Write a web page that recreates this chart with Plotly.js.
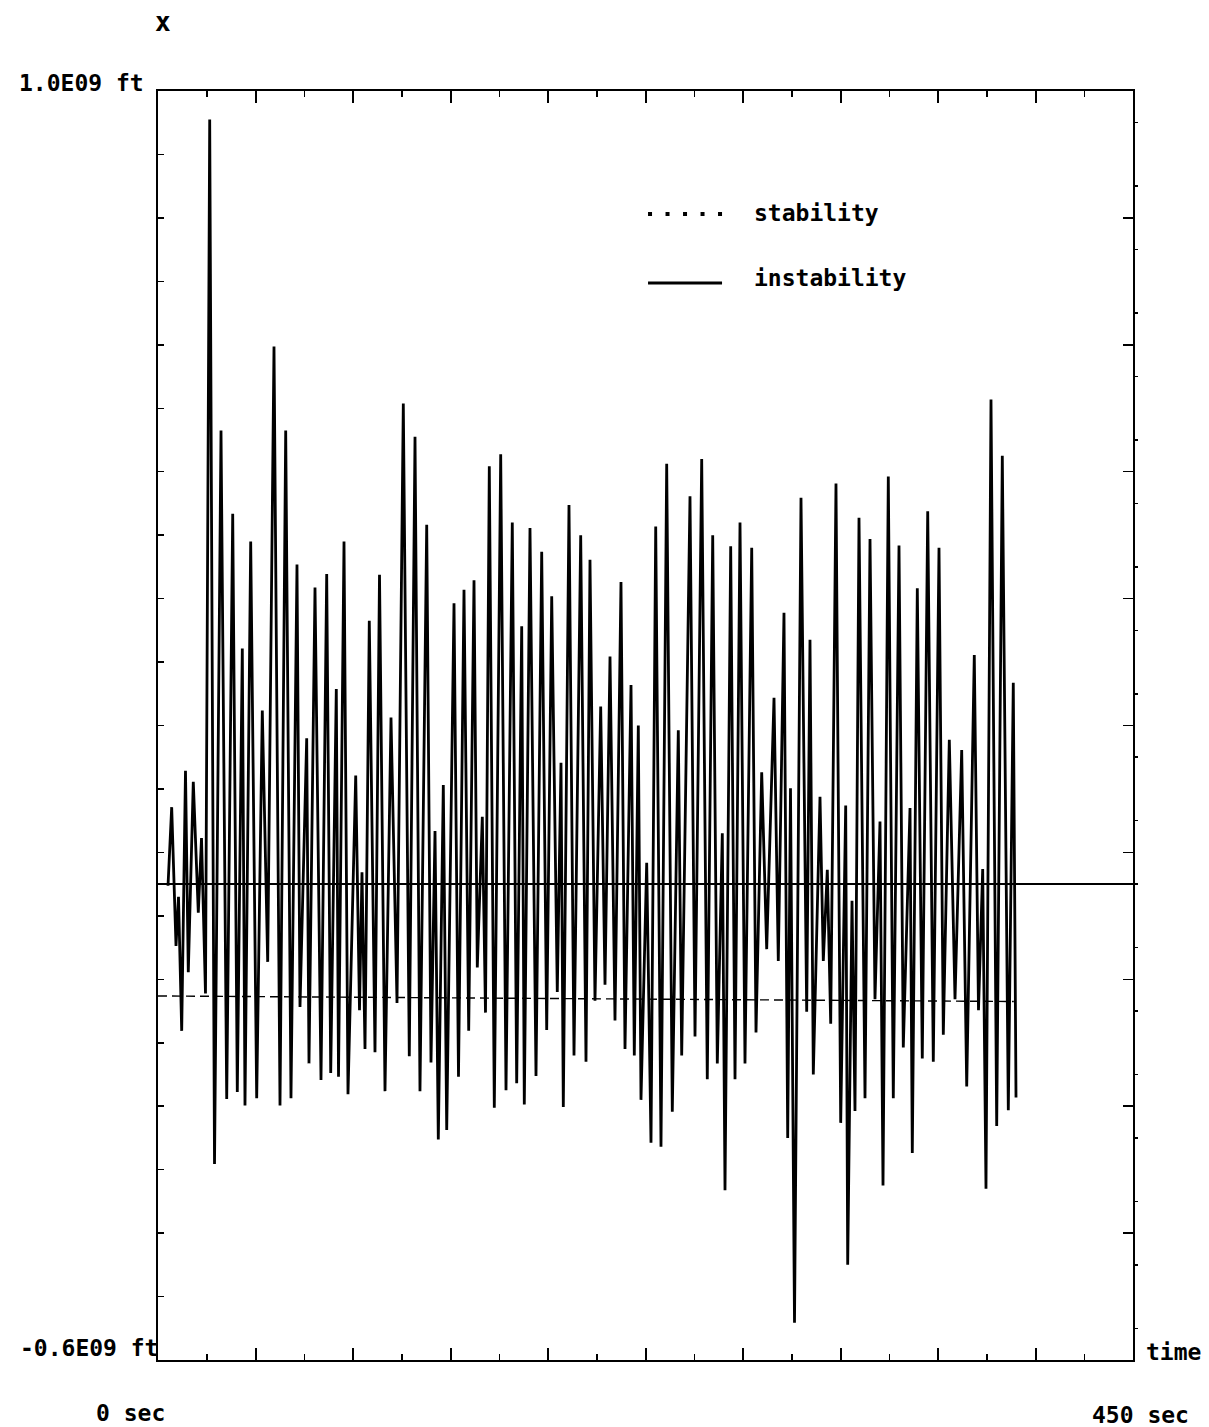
<!DOCTYPE html>
<html>
<head>
<meta charset="utf-8">
<script src="https://cdn.plot.ly/plotly-3.0.1.min.js"></script>
<style>
  html, body { margin: 0; padding: 0; background: #ffffff; }
  #chart { width: 1209px; height: 1427px; }
</style>
</head>
<body>
<div id="chart"></div>
<script>
// time axis (sec) of the instability trace
const timeSec = [4.62,6.32,8.31,9.46,10.94,12.69,13.98,16.29,18.60,20.08,
  21.92,23.86,26.08,29.08,31.71,34.48,36.60,38.91,40.15,42.78,
  45.55,48.14,50.63,53.54,56.31,58.94,61.38,64.15,65.54,68.63,
  69.69,72.46,75.23,77.86,79.71,82.29,83.31,85.85,87.69,91.25,
  93.00,94.15,95.54,97.52,100.15,102.23,104.77,107.54,110.31,113.22,
  115.98,118.62,120.92,124.02,126.0,127.85,129.37,131.68,133.25,136.62,
  138.69,141.23,143.40,145.85,147.37,149.68,151.15,152.91,155.22,158.17,
  160.62,163.52,165.55,167.86,169.06,171.69,174.46,177.09,179.40,181.71,
  184.29,186.0,187.06,189.69,192.0,195.09,197.54,199.38,201.69,204.32,
  206.31,208.62,210.92,213.69,215.54,218.31,219.83,221.68,222.92,225.55,
  227.54,229.71,232.15,234.78,237.37,240.14,241.71,245.54,247.85,250.94,
  253.52,256.02,258.14,260.45,261.69,264.32,266.31,268.62,270.92,274.02,
  276.0,278.63,280.94,284.31,286.29,288.92,290.63,291.92,293.77,296.77,
  299.40,300.92,302.45,305.54,307.06,308.91,310.48,312.92,315.09,317.40,
  318.32,320.31,321.69,323.54,326.31,328.62,330.92,333.23,334.62,337.06,
  339.37,342.0,343.98,347.08,348.14,350.45,352.75,355.25,357.83,360.46,
  362.45,365.22,367.85,370.94,373.25,376.75,378.69,380.63,382.15,384.46,
  387.09,389.68,392.45,394.75,396.0];

// instability trace x, in units of 1E09 ft
const instability = [-0.002,0.097,-0.078,-0.016,-0.185,0.143,-0.111,0.129,-0.036,0.058,
  -0.138,0.964,-0.353,0.572,-0.271,0.467,-0.262,0.297,-0.279,0.432,
  -0.270,0.219,-0.098,0.678,-0.279,0.572,-0.270,0.403,-0.155,0.184,
  -0.226,0.374,-0.247,0.391,-0.238,0.246,-0.243,0.432,-0.265,0.137,
  -0.159,0.015,-0.208,0.332,-0.212,0.390,-0.261,0.210,-0.150,0.606,
  -0.217,0.564,-0.261,0.453,-0.225,0.067,-0.322,0.125,-0.310,0.354,
  -0.243,0.371,-0.185,0.383,-0.105,0.085,-0.162,0.527,-0.282,0.542,
  -0.260,0.456,-0.251,0.325,-0.278,0.449,-0.242,0.419,-0.184,0.363,
  -0.136,0.153,-0.281,0.478,-0.216,0.440,-0.224,0.409,-0.147,0.224,
  -0.127,0.287,-0.172,0.381,-0.208,0.251,-0.216,0.200,-0.272,0.027,
  -0.326,0.451,-0.331,0.530,-0.287,0.194,-0.216,0.489,-0.192,0.536,
  -0.246,0.440,-0.226,0.064,-0.386,0.426,-0.246,0.456,-0.226,0.424,
  -0.187,0.141,-0.082,0.235,-0.097,0.342,-0.320,0.121,-0.553,0.487,
  -0.161,0.308,-0.240,0.110,-0.097,0.018,-0.176,0.505,-0.301,0.099,
  -0.480,-0.021,-0.286,0.462,-0.270,0.435,-0.145,0.079,-0.380,0.514,
  -0.270,0.427,-0.206,0.096,-0.339,0.373,-0.220,0.470,-0.224,0.424,
  -0.190,0.182,-0.145,0.169,-0.255,0.289,-0.159,0.019,-0.384,0.611,
  -0.305,0.540,-0.285,0.254,-0.269];

// stability line
const stabilityTime = [0, 395];
const stability = [-0.141, -0.148];

// axis extents and labels
const xRange = [0, 450];
const yRange = [-0.6, 1.0];
const yTopLabel = "1.0E09 ft";
const yBottomLabel = "-0.6E09 ft";
const xStartLabel = "0 sec";
const xEndLabel = "450 sec";
const xAxisName = "time";
const yAxisName = "x";
const legendNames = ["stability", "instability"];

const FONT = "DejaVu Sans Mono, Liberation Mono, monospace";
const txt = (size) => ({family: FONT, size: size, color: "#000", weight: "bold"});

const traces = [
  {
    x: timeSec, y: instability, type: "scatter", mode: "lines",
    line: {color: "#000", width: 2.8}, name: legendNames[1],
    xaxis: "x", yaxis: "y", hoverinfo: "skip"
  },
  {
    x: stabilityTime, y: stability, type: "scatter", mode: "lines",
    line: {color: "#000", width: 1.4, dash: "9px,5px"}, name: legendNames[0],
    xaxis: "x", yaxis: "y2", hoverinfo: "skip"
  }
];

const layout = {
  width: 1209, height: 1427,
  margin: {l: 158, r: 76, t: 91, b: 67},
  paper_bgcolor: "#fff", plot_bgcolor: "#fff",
  showlegend: false,
  xaxis: {
    range: xRange, showgrid: false, zeroline: false,
    showline: true, linecolor: "#000", linewidth: 2, mirror: "ticks",
    ticks: "inside", tick0: 0, dtick: 45, ticklen: 12, tickwidth: 2, tickcolor: "#000",
    minor: {ticks: "inside", dtick: 22.5, ticklen: 6, tickwidth: 1.5, tickcolor: "#000", showgrid: false},
    showticklabels: false
  },
  yaxis: {
    range: yRange, showgrid: false,
    zeroline: true, zerolinecolor: "#000", zerolinewidth: 2,
    showline: true, linecolor: "#000", linewidth: 2,
    ticks: "inside", tick0: -0.6, dtick: 0.08, ticklen: 6, tickwidth: 1.5, tickcolor: "#000",
    showticklabels: false
  },
  yaxis2: {
    range: yRange, overlaying: "y", side: "right", showgrid: false, zeroline: false,
    showline: true, linecolor: "#000", linewidth: 2,
    ticks: "inside", tick0: -0.6, dtick: 0.16, ticklen: 10, tickwidth: 1.5, tickcolor: "#000",
    minor: {ticks: "outside", dtick: 0.08, ticklen: 3, tickwidth: 1.5, tickcolor: "#000", showgrid: false},
    showticklabels: false
  },
  annotations: [
    {text: yAxisName, xref: "paper", yref: "paper", x: 0.005, y: 1.0544, xanchor: "center", yanchor: "middle", showarrow: false, font: txt(26)},
    {text: yTopLabel, xref: "paper", yref: "paper", x: -0.012, y: 1.0063, xanchor: "right", yanchor: "middle", showarrow: false, font: txt(23)},
    {text: yBottomLabel, xref: "paper", yref: "paper", x: 0.002, y: 0.0095, xanchor: "right", yanchor: "middle", showarrow: false, font: txt(23)},
    {text: xStartLabel, xref: "paper", yref: "paper", x: -0.066, y: -0.0418, xanchor: "left", yanchor: "middle", showarrow: false, font: txt(23)},
    {text: xEndLabel, xref: "paper", yref: "paper", x: 1.0595, y: -0.0433, xanchor: "right", yanchor: "middle", showarrow: false, font: txt(23)},
    {text: xAxisName, xref: "paper", yref: "paper", x: 1.0115, y: 0.0063, xanchor: "left", yanchor: "middle", showarrow: false, font: txt(23)},
    {text: legendNames[0], xref: "paper", yref: "paper", x: 0.609, y: 0.9039, xanchor: "left", yanchor: "middle", showarrow: false, font: txt(23)},
    {text: legendNames[1], xref: "paper", yref: "paper", x: 0.609, y: 0.8526, xanchor: "left", yanchor: "middle", showarrow: false, font: txt(23)}
  ],
  shapes: [
    {type: "line", xref: "paper", yref: "paper", x0: 0.5026, x1: 0.5785, y0: 0.9031, y1: 0.9031,
     line: {color: "#000", width: 4, dash: "4px,13.5px"}},
    {type: "line", xref: "paper", yref: "paper", x0: 0.5026, x1: 0.5785, y0: 0.8487, y1: 0.8487,
     line: {color: "#000", width: 3}}
  ]
};

Plotly.newPlot("chart", traces, layout, {displayModeBar: false, staticPlot: true});
</script>
</body>
</html>
